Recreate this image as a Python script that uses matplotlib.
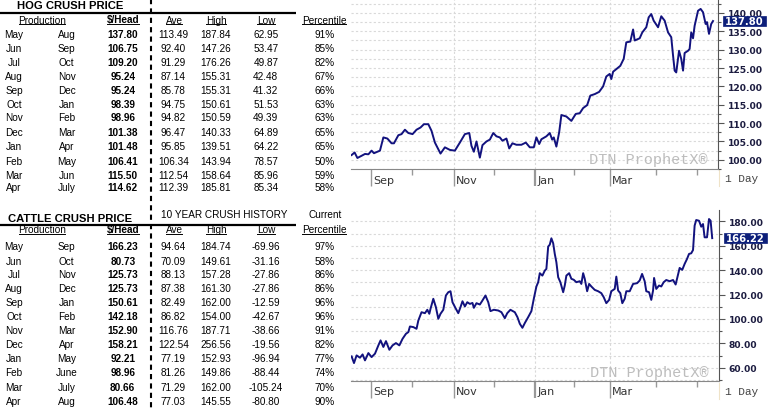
import numpy as np
import matplotlib.pyplot as plt
from matplotlib.patches import Rectangle
from matplotlib.ticker import MultipleLocator, FormatStrFormatter
from matplotlib.transforms import blended_transform_factory

plt.rcParams['font.family'] = ['Liberation Sans', 'DejaVu Sans']

# ---- table data ----
prod_from = ['May', 'Jun', 'Jul', 'Aug', 'Sep', 'Oct', 'Nov', 'Dec', 'Jan', 'Feb', 'Mar', 'Apr']

hog_prod_to = ['Aug', 'Sep', 'Oct', 'Nov', 'Dec', 'Jan', 'Feb', 'Mar', 'Apr', 'May', 'Jun', 'July']
hog_head = [137.80, 106.75, 109.20, 95.24, 95.24, 98.39, 98.96, 101.38, 101.48, 106.41, 115.50, 114.62]
hog_ave = [113.49, 92.40, 91.29, 87.14, 85.78, 94.75, 94.82, 96.47, 95.85, 106.34, 112.54, 112.39]
hog_high = [187.84, 147.26, 176.26, 155.31, 155.31, 150.61, 150.59, 140.33, 139.51, 143.94, 158.64, 185.81]
hog_low = [62.95, 53.47, 49.87, 42.48, 41.32, 51.53, 49.39, 64.89, 64.22, 78.57, 85.96, 85.34]
hog_pct = [91, 85, 82, 67, 66, 63, 63, 65, 65, 50, 59, 58]

cattle_prod_to = ['Sep', 'Oct', 'Nov', 'Dec', 'Jan', 'Feb', 'Mar', 'Apr', 'May', 'June', 'July', 'Aug']
cattle_head = [166.23, 80.73, 125.73, 125.73, 150.61, 142.18, 152.90, 158.21, 92.21, 98.96, 80.66, 106.48]
cattle_ave = [94.64, 70.09, 88.13, 87.38, 82.49, 86.82, 116.76, 122.54, 77.19, 81.26, 71.29, 77.03]
cattle_high = [184.74, 149.61, 157.28, 161.30, 162.00, 154.00, 187.71, 256.56, 152.93, 149.86, 162.00, 145.55]
cattle_low = [-69.96, -31.16, -27.86, -27.86, -12.59, -42.67, -38.66, -19.56, -96.94, -88.44, -105.24, -80.80]
cattle_pct = [97, 58, 86, 86, 96, 96, 91, 82, 77, 74, 70, 90]

# ---- chart data (x = trading session index) ----
month_names = ['Sep', 'Oct', 'Nov', 'Dec', 'Jan', 'Feb', 'Mar', 'Apr', 'May']
month_pos = [10.5, 31.2, 52.2, 72, 92.8, 112, 130.3, 153, 173.8]
labeled = ['Sep', 'Nov', 'Jan', 'Mar']

hog_x = [0.8, 2.3, 3.7, 5.8, 7.5, 9.2, 10.8, 12, 15, 16.7,
         18.7, 20.8, 22, 24.2, 25.8, 27.5, 29.2, 31.3, 33.3, 35.3,
         37, 39.2, 40.8, 42.5, 45.3, 47.5, 50, 52.5, 55, 57.5,
         59.7, 60.8, 62, 63.3, 65, 66.3, 68.3, 70, 71.7, 73.3,
         75, 76.3, 78.3, 79.7, 81.3, 83.3, 85.8, 88, 90, 92,
         93.3, 94.7, 95.8, 98.3, 100, 101.2, 102, 103.3, 104.7, 105.8,
         108.3, 110.8, 113, 115, 116.7, 118.7, 120.3, 122.5, 124.7, 126.7,
         128.3, 130, 130.8, 131.7, 133.3, 135.3, 137, 138.3, 140.3, 141.7,
         142.5, 145, 146.3, 148.3, 149.5, 150.8, 152, 154.2, 155.8, 157.5,
         159.2, 160.8, 161.7, 162.5, 163.3, 164.7, 165.8, 166.7, 167.5, 169.2,
         170, 170.8, 171.7, 172.5, 174.2, 175.5, 176.7, 178, 178.7, 179.7,
         180.8, 181.7]
hog_y = [101.3, 102.0, 100.5, 101.1, 101.6, 101.5, 102.5, 101.8, 102.5, 106.1,
         105.8, 104.5, 104.5, 106.7, 107.0, 108.2, 107.3, 107.0, 108.2, 108.8,
         109.7, 109.7, 107.9, 104.7, 101.7, 103.4, 102.7, 102.5, 104.7, 107.0,
         107.3, 103.8, 102.2, 105.0, 100.6, 104.0, 105.0, 105.5, 107.3, 106.4,
         106.1, 105.2, 105.8, 103.1, 104.5, 104.1, 104.1, 104.7, 103.4, 103.4,
         106.1, 104.3, 105.6, 106.4, 107.3, 105.5, 106.1, 103.6, 107.5, 112.2,
         111.8, 110.6, 112.5, 112.7, 114.1, 114.9, 117.5, 117.9, 118.5, 120.0,
         122.7, 123.4, 122.0, 124.0, 124.7, 125.6, 127.5, 132.0, 132.2, 135.5,
         132.5, 133.1, 134.7, 136.1, 138.8, 139.7, 137.9, 136.1, 139.1, 137.9,
         134.7, 133.4, 128.4, 124.3, 123.8, 129.7, 127.5, 124.3, 129.1, 129.7,
         130.2, 134.7, 133.1, 136.5, 140.6, 141.1, 140.2, 137.0, 137.5, 134.3,
         137.0, 137.80]

cattle_x = [0.8, 2, 3.3, 5, 6.3, 7.5, 9.2, 10.8, 12.5, 14.2,
            15.3, 16.7, 18, 19.7, 21.3, 23, 24.7, 26.3, 28, 29.2,
            30, 31.7, 33.3, 34.2, 35.8, 37.5, 38.7, 39.7, 40.3, 41.7,
            43, 44.2, 45.3, 46.7, 48, 49.2, 50.3, 51.3, 53, 54.2,
            55.3, 56.3, 57.5, 58.7, 60, 61.3, 62, 63.3, 65, 66.3,
            67.8, 69.2, 70.3, 72, 74.2, 75.8, 77.5, 78.7, 80.3, 82.5,
            83.8, 85, 86.3, 87.5, 89.2, 90.8, 92, 93.3, 94.2, 95,
            96.3, 97.5, 98.3, 99.2, 100, 100.8, 101.7, 102.5, 103.3, 104.2,
            105.3, 106.7, 107.5, 108.3, 109.7, 110.8, 112, 113.3, 115, 115.8,
            116.7, 117.5, 118.7, 119.7, 120.8, 122.5, 124.2, 125.8, 127, 128.3,
            129.7, 130.8, 132.5, 133.3, 134.2, 135.3, 136.3, 137.5, 138.3, 140,
            141.7, 143.7, 145, 146.2, 147.5, 148.3, 149.7, 150.8, 151.7, 152.2,
            153.3, 154.7, 155.8, 157, 158.3, 160, 161.7, 163, 165, 166.3,
            167.5, 168.7, 169.7, 170.8, 171.7, 172.5, 173.3, 174.7, 175.8, 176.7,
            177.5, 178.7, 179.7, 180.5, 181.3]
cattle_y = [69.3, 63.8, 70.1, 68.2, 70.9, 66.0, 72.0, 68.7, 71.5, 78.3,
            82.4, 77.0, 81.8, 74.7, 78.3, 80.2, 78.3, 83.7, 87.8, 89.2,
            93.8, 93.3, 91.9, 98.7, 105.5, 104.7, 107.5, 104.2, 108.3, 116.5,
            109.6, 100.1, 104.2, 107.5, 119.2, 121.9, 122.7, 113.7, 108.3, 104.7,
            109.6, 114.5, 110.2, 113.7, 112.3, 113.1, 109.1, 112.9, 111.8, 115.1,
            119.2, 113.7, 106.4, 107.5, 106.9, 105.5, 100.6, 104.7, 107.5, 105.5,
            101.5, 96.0, 92.7, 96.6, 101.5, 106.4, 116.5, 126.6, 130.1, 137.5,
            135.5, 139.6, 141.0, 159.3, 160.9, 166.1, 162.0, 153.3, 146.5, 134.2,
            130.1, 121.9, 127.4, 135.5, 137.5, 132.9, 132.1, 130.1, 130.9, 128.7,
            137.5, 132.9, 122.7, 128.7, 126.6, 123.8, 122.7, 121.1, 117.8, 112.9,
            115.6, 122.7, 124.6, 134.7, 123.3, 121.1, 112.9, 116.5, 122.7, 122.7,
            128.7, 129.3, 131.5, 136.9, 130.9, 122.7, 121.9, 115.6, 123.3, 133.6,
            124.6, 127.4, 126.6, 130.1, 131.9, 130.9, 131.9, 128.2, 141.8, 140.2,
            145.1, 149.2, 153.3, 153.8, 156.5, 176.5, 181.1, 180.5, 175.6, 177.8,
            166.9, 166.9, 181.9, 180.5, 166.22]

W, H = 769, 410
LINE = '#12127e'
NAVY = '#0d1f7a'
GRID = '#d9d9d9'

fig = plt.figure(figsize=(W / 100, H / 100), dpi=100)
tab = fig.add_axes([0, 0, 1, 1])
tab.set_xlim(0, W)
tab.set_ylim(H, 0)
tab.axis('off')

# column centres of the tables (pixels)
col_x = [14, 66.7, 122.7, 173.5, 215.7, 265.8, 324.3]
headers = ['Production', r'\$/Head', 'Ave', 'High', 'Low', 'Percentile']
head_x = [42, 123, 174, 216, 266, 324]
FS = 7.2


def draw_table(title, title_y, line_y, head_y, ul_y, rows_y, to_months, head, ave, high, low, pct):
    tab.text(70, title_y, title, ha='center', va='center', fontsize=8.1, fontweight='bold')
    tab.plot([0, 296], [line_y, line_y], color='black', lw=1.6, solid_capstyle='butt')
    hts = []
    for name, hx in zip(headers, head_x):
        t = tab.text(hx, head_y, name, ha='center', va='center', fontsize=FS,
                     fontweight='bold' if 'Head' in name else 'normal')
        hts.append(t)
    for i, ry in enumerate(rows_y):
        cells = [prod_from[i], to_months[i], f'{head[i]:.2f}', f'{ave[i]:.2f}',
                 f'{high[i]:.2f}', f'{low[i]:.2f}', f'{pct[i]}%']
        for j, (c, cx) in enumerate(zip(cells, col_x)):
            tab.text(cx, ry, c, ha='center', va='center', fontsize=FS,
                     fontweight='bold' if j == 2 else 'normal')
    return hts, ul_y


hog_rows = [34.7, 48.7, 62.7, 76.7, 90.7, 104.7, 118.3, 132.7, 147.3, 161.7, 175.7, 187.7]
cattle_rows = [247.3, 261.7, 275.3, 289.3, 303.3, 317.3, 331.3, 345.3, 359.3, 373.3, 388.0, 402.3]

underline_sets = []
underline_sets.append(draw_table('HOG CRUSH PRICE', 6, 14, 20.5, 25.3, hog_rows, hog_prod_to,
                                 hog_head, hog_ave, hog_high, hog_low, hog_pct))
underline_sets.append(draw_table('CATTLE CRUSH PRICE', 219, 226, 229.8, 234.5, cattle_rows,
                                 cattle_prod_to, cattle_head, cattle_ave, cattle_high,
                                 cattle_low, cattle_pct))
tab.text(224, 215, '10 YEAR CRUSH HISTORY', ha='center', va='center', fontsize=FS)
tab.text(325, 215, 'Current', ha='center', va='center', fontsize=FS)

# dashed separator
tab.plot([151, 151], [0, H], color='black', lw=1.5, dashes=(2.5, 2))


def draw_chart(box, xs, ys, xlim, ylim, major, minor, label_y, mark_y):
    left, top, right, bottom = box
    wpx, hpx = right - left, bottom - top
    ax = fig.add_axes([left / W, 1 - bottom / H, wpx / W, hpx / H])
    ax.set_facecolor('none')
    ax.set_axisbelow(True)
    ax.plot(xs, ys, color=LINE, lw=1.4, solid_joinstyle='round', zorder=3)
    ax.set_xlim(*xlim)
    ax.set_ylim(*ylim)
    for s in ['top', 'left']:
        ax.spines[s].set_visible(False)
    ax.spines['right'].set_color('#555555')
    ax.spines['bottom'].set_color('#888888')

    ax.yaxis.tick_right()
    ax.yaxis.set_major_locator(MultipleLocator(major))
    ax.yaxis.set_minor_locator(MultipleLocator(minor))
    ax.yaxis.set_major_formatter(FormatStrFormatter('%.2f'))
    ax.tick_params(axis='y', which='major', length=4, width=0.8, color='#555555', pad=3,
                   labelsize=6.6, labelcolor='#1c1c40')
    ax.tick_params(axis='y', which='minor', length=2.5, width=0.8, color='#555555')
    for lab in ax.get_yticklabels():
        lab.set_fontweight('bold')
        lab.set_family('DejaVu Sans')
    ax.grid(axis='y', which='both', color=GRID, lw=0.8, ls=(0, (2, 2)))

    major_x = [p for p, m in zip(month_pos, month_names) if m in labeled]
    minor_x = [p for p, m in zip(month_pos, month_names) if m not in labeled]
    ax.set_xticks(major_x)
    ax.set_xticks(minor_x, minor=True)
    ax.set_xticklabels([])
    ax.tick_params(axis='x', which='major', length=12, width=1, color='#999999')
    ax.tick_params(axis='x', which='minor', length=4, width=1, color='#999999')
    jan = ax.xaxis.get_major_ticks()[labeled.index('Jan')]
    jan.tick1line.set_color('#222222')
    jan.tick1line.set_markeredgewidth(1.6)

    for p, m in zip(month_pos, month_names):
        if m in ['Nov', 'Jan', 'Mar']:
            ax.axvline(p, color=GRID, lw=0.8, ls=(0, (2, 2)), zorder=0)
        if m in labeled:
            ax.text(p + 1, label_y, m, transform=ax.get_xaxis_transform(), ha='left',
                    va='center', fontsize=8, color='#333333', family='DejaVu Sans')

    ax.text(0.973, mark_y, 'DTN ProphetX®', transform=ax.transAxes, ha='right',
            va='center', family='Liberation Mono', fontsize=11, color='#bdbdbd', zorder=1)

    # last-value marker box on the price scale
    tr = blended_transform_factory(ax.transAxes, ax.transData)
    box_h = 10.5 * (ylim[1] - ylim[0]) / hpx
    ax.add_patch(Rectangle((1 + 4.7 / wpx, ys[-1] - box_h / 2), 43 / wpx, box_h,
                           transform=tr, fc=NAVY, ec=NAVY, lw=0.5, clip_on=False, zorder=5))
    ax.text(1 + 26.2 / wpx, ys[-1], f'{ys[-1]:.2f}', transform=tr, ha='center', va='center',
            color='white', fontweight='bold', fontsize=7.2, family='DejaVu Sans',
            clip_on=False, zorder=6)
    return ax


draw_chart((351, 0, 718, 170), hog_x, hog_y, (0.5, 184.2), (97.5, 143.8), 5, 2.5, -0.065, 0.059)
draw_chart((351, 211, 719, 382), cattle_x, cattle_y, (0.5, 184.7), (49.1, 189.3), 20, 10, -0.061, 0.054)

for yy in [179, 392]:
    tab.text(725, yy, '1 Day', ha='left', va='center', family='Liberation Mono',
             fontsize=8, color='#444444')
    tab.plot([718.5, 718.5], [yy - 8, yy + 8], color='#efe3c8', lw=0.8)

# underline table headers
fig.canvas.draw()
renderer = fig.canvas.get_renderer()
inv = tab.transData.inverted()
for hts, ul_y in underline_sets:
    for t in hts:
        bb = t.get_window_extent(renderer)
        (x0, _), (x1, _) = inv.transform([(bb.x0, bb.y0), (bb.x1, bb.y1)])
        tab.plot([x0 + 0.5, x1 - 0.5], [ul_y, ul_y], color='black', lw=0.7)

fig.savefig('out.png', dpi=100)
